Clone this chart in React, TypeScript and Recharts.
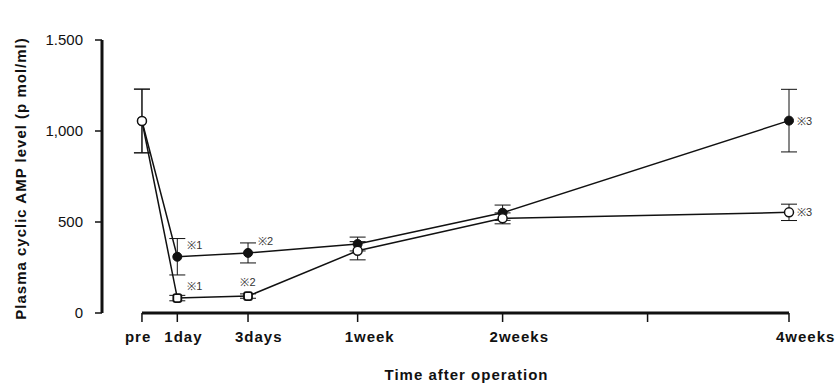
import React from 'react';
import {
  LineChart,
  Line,
  XAxis,
  YAxis,
  ErrorBar,
  LabelList,
  ReferenceLine,
} from 'recharts';

// axis positions of the time ticks (the scale is not linear in days)
const timeLabels = ['pre', '1day', '3days', '1week', '2weeks', '', '4weeks'];
const timeAxisPos = [0, 1, 3, 6.1, 10.2, 14.3, 18.3];

// sampling points
const samplePos = [0, 1, 3, 6.1, 10.2, 18.3];
const filledMean = [1055, 309, 330, 379, 551, 1057];
const filledSE = [175, 100, 55, 38, 42, 172];
const openMean = [1055, 82, 93, 342, 520, 553];
const openSE = [175, 15, 12, 50, 30, 45];
const filledNotes = ['', '※1', '※2', '', '', '※3'];
const openNotes = ['', '※1', '※2', '', '', '※3'];

const yTicks = [0, 500, 1000, 1500];
const yTickText: Record<number, string> = { 0: '0', 500: '500', 1000: '1,000', 1500: '1.500' };

const X_START = -1.13; // where the y axis sits on the time scale

const data = samplePos.map((pos, i) => ({
  pos,
  filled: filledMean[i],
  filledErr: filledSE[i],
  open: openMean[i],
  openErr: openSE[i],
  filledNote: filledNotes[i],
  openNote: openNotes[i],
}));

const INK = '#111';
const FONT = "'Liberation Sans', Arial, sans-serif";

const TimeTick = (props: any) => {
  const { x, y, payload } = props;
  const idx = timeAxisPos.indexOf(payload.value);
  const label = idx >= 0 ? timeLabels[idx] : '';
  const shift = idx === 0 ? -17 : -13;
  return (
    <text
      x={x + shift}
      y={y}
      dy={12}
      textAnchor="start"
      fontFamily={FONT}
      fontWeight="bold"
      fontSize={15}
      letterSpacing={1}
      fill={INK}
    >
      {label}
    </text>
  );
};

const noteRenderer = (series: 'filled' | 'open') => (props: any) => {
  const { x, y, value, index } = props;
  if (!value) return null;
  let dx = 10;
  let dy = -8;
  let anchor = 'start';
  if (index === 5) {
    dx = 8;
    dy = 4;
  } else if (series === 'open' && index === 2) {
    dx = 0;
    dy = -10;
    anchor = 'middle';
  }
  return (
    <text
      x={x + dx}
      y={y + dy}
      textAnchor={anchor}
      fontFamily={FONT}
      fontSize={11}
      fill="#333"
    >
      {value}
    </text>
  );
};

const OpenDot = (props: any) => {
  const { cx, cy, index } = props;
  if (cx == null || cy == null) return null;
  if (index === 1 || index === 2) {
    return (
      <rect
        x={cx - 4}
        y={cy - 4}
        width={8}
        height={8}
        rx={2}
        fill="#fff"
        stroke={INK}
        strokeWidth={1.8}
      />
    );
  }
  return <circle cx={cx} cy={cy} r={4.5} fill="#fff" stroke={INK} strokeWidth={1.5} />;
};

export default function App() {
  return (
    <div style={{ position: 'absolute', left: 0, top: 0, background: '#fff' }}>
      <LineChart
        width={840}
        height={389}
        data={data}
        margin={{ top: 40, right: 51, bottom: 0, left: 0 }}
      >
        <XAxis
          type="number"
          dataKey="pos"
          domain={[X_START, 18.3]}
          ticks={timeAxisPos}
          interval={0}
          axisLine={false}
          tickLine={{ stroke: INK, strokeWidth: 1.5 }}
          tickSize={9}
          tickMargin={8}
          tick={<TimeTick />}
          height={76}
          label={{
            content: (p: any) => {
              const vb = p.viewBox || {};
              return (
                <text
                  x={vb.x + vb.width / 2 + 21}
                  y={vb.y + 67}
                  textAnchor="middle"
                  fontFamily={FONT}
                  fontWeight="bold"
                  fontSize={15}
                  letterSpacing={1}
                  fill={INK}
                >
                  Time after operation
                </text>
              );
            },
          }}
        />
        <YAxis
          type="number"
          domain={[0, 1500]}
          ticks={yTicks}
          width={102}
          axisLine={{ stroke: INK, strokeWidth: 3 }}
          tickLine={{ stroke: INK, strokeWidth: 1.5 }}
          tickSize={7}
          tickMargin={12}
          tickFormatter={(v: number) => yTickText[v] ?? String(v)}
          tick={{ fill: INK, fontFamily: FONT, fontSize: 15 }}
          label={{
            content: (p: any) => {
              const vb = p.viewBox || {};
              const cx = vb.x + 20;
              const cy = vb.y + vb.height / 2 + 2;
              return (
                <text
                  x={cx}
                  y={cy}
                  transform={`rotate(-90 ${cx} ${cy})`}
                  textAnchor="middle"
                  dominantBaseline="central"
                  fontFamily={FONT}
                  fontWeight="bold"
                  fontSize={15}
                  letterSpacing={1}
                  fill={INK}
                >
                  Plasma cyclic AMP level (p mol/ml)
                </text>
              );
            },
          }}
        />
        <ReferenceLine
          segment={[
            { x: 0, y: 0 },
            { x: 18.3, y: 0 },
          ]}
          stroke={INK}
          strokeWidth={3}
        />
        <Line
          dataKey="filled"
          stroke={INK}
          strokeWidth={1.5}
          isAnimationActive={false}
          dot={{ r: 4.5, fill: INK, stroke: INK, strokeWidth: 1 }}
        >
          <ErrorBar dataKey="filledErr" direction="y" width={8} stroke={INK} strokeWidth={1} />
          <LabelList dataKey="filledNote" content={noteRenderer('filled')} />
        </Line>
        <Line
          dataKey="open"
          stroke={INK}
          strokeWidth={1.5}
          isAnimationActive={false}
          dot={<OpenDot />}
        >
          <ErrorBar dataKey="openErr" direction="y" width={8} stroke={INK} strokeWidth={1} />
          <LabelList dataKey="openNote" content={noteRenderer('open')} />
        </Line>
      </LineChart>
    </div>
  );
}
